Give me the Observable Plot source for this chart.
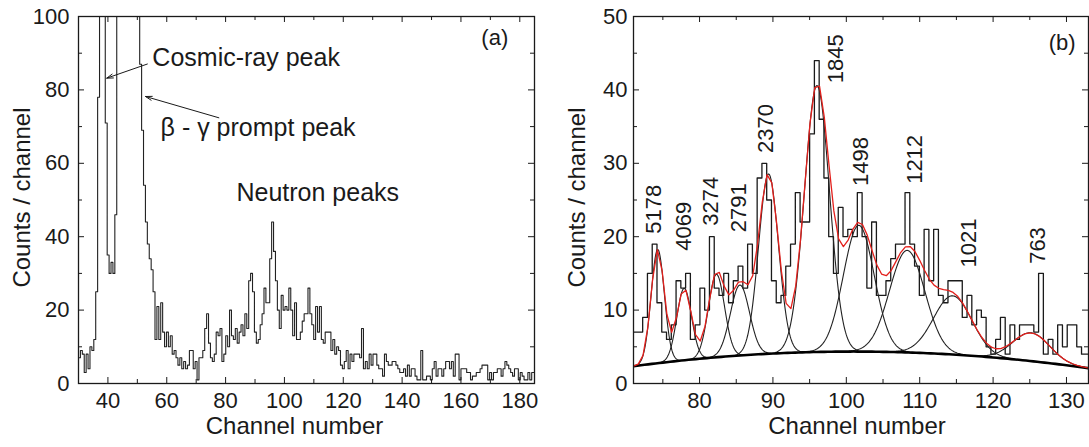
<!DOCTYPE html>
<html><head><meta charset="utf-8">
<script src="https://cdn.jsdelivr.net/npm/d3@7"></script>
<script src="https://cdn.jsdelivr.net/npm/@observablehq/plot@0.6"></script>
<style>
body{margin:0;background:#fff;}
#row{display:flex;width:1089px;height:447px;overflow:hidden;}
#row svg{display:block;flex:none;}
</style></head><body><div id="row"></div>
<script>
// ---- histogram (counts per bin), bins start at channel 30 ----
const binStart = 30;
const binWidth = 0.65;
const countsLow = [7,9,8,3,8,4,10,9,12,25,
 78,150,260,190,71,35,30,33,30,46,
 160,260,340,380,360,320,280,240,200,170,
 140,115,87,69,54,44,38,34,31,25,
 12,21,12,22,14,10,14,10,13,8,
 9,7,5,7,4,6,4,5,9,9,
 4,6,1];
const countsMid = [7,7,9,15,19,11,7,6,8,14,
 13,15,6,8,13,10,20,13,12,15,
 11,14,16,13,19,15,28,30,25,14,
 11,12,16,19,26,22,22,34,44,36,
 28,20,15,24,20,21,20,26,20,13,
 22,12,12,14,17,19,19,26,19,16,
 12,21,14,21,12,11,14,14,14,9,
 12,8,10,9,5,4,6,9,4,8,
 6,8,8,8,7,15,4,6,4,8,
 5,8,8,5,4,4];
const countsHigh = [2,8,6,5,5,6,6,5,4,3,
 3,4,2,5,2,4,4,2,1,1,
 9,1,1,2,2,1,4,6,2,4,
 4,2,4,6,6,4,6,2,8,8,
 1,4,4,4,3,3,1,2,2,3,
 3,4,5,5,5,1,3,1,3,3,
 4,4,2,4,6,5,4,3,2,4,
 4,1,3,2,1,1,3,1,3,3];

// ---- fitted peaks (panel b) ----
const peakLabels  = ["5178","4069","3274","2791","2370","1845","1498","1212","1021","763"];
const peakCenters = [74.3, 77.9, 82.3, 85.5, 89.4, 96.0, 101.7, 108.3, 114.5, 125.2];
const peakHeights = [15.5, 9.8, 11.3, 9.6, 24.5, 36.3, 17.2, 13.9, 8.0, 3.85];
const peakWidths  = [0.9, 1.0, 1.1, 1.3, 1.35, 1.7, 2.1, 2.4, 2.6, 2.5];
const peakLabelX  = [73.85, 77.86, 81.53, 85.33, 89.07, 98.58, 102.05, 109.3, 116.7, 126.1];
const peakLabelY  = [20.4, 18.1, 21.5, 20.6, 31.4, 40.9, 26.9, 27.2, 15.8, 16.3];
// background: parabola with top at (bgTopX, bgTopY)
const bgTopX = 101, bgTopY = 4.35, bgCurvature = 0.00222;

// ---- annotations (panel a) ----
const annoText = ["Cosmic-ray peak", "β - γ prompt peak", "Neutron peaks"];
const annoX = [55.1, 57.9, 83.7];
const annoY = [88.6, 69.6, 52.0];
const arrowFromX = [53.4, 77.7], arrowFromY = [87.05, 72.4];
const arrowToX = [39.6, 52.8], arrowToY = [83.2, 78.2];

// ---- ticks ----
const aXMajor = [40,60,80,100,120,140,160,180], aXMinor = [50,70,90,110,130,150,170];
const aYMajor = [0,20,40,60,80,100], aYMinor = [10,30,50,70,90];
const bXMajor = [80,90,100,110,120,130], bXMinor = [75,85,95,105,115,125];
const bYMajor = [0,10,20,30,40,50], bYMinor = [5,15,25,35,45];

const counts = countsLow.concat(countsMid, countsHigh);
const hist = counts.map((v,i)=>({c: binStart + i*binWidth, v}));
hist.push({c: binStart + counts.length*binWidth, v: counts[counts.length-1]});

const bg = c => bgTopY - bgCurvature*(c-bgTopX)**2;
const gauss = (c,i) => peakHeights[i]*Math.exp(-((c-peakCenters[i])**2)/(2*peakWidths[i]**2));
const compRows = [];
peakCenters.forEach((m,i)=>{
  const s = peakWidths[i];
  d3.range(m-3.3*s, m+3.3*s+1e-9, 0.1).forEach(c=>compRows.push({peak: peakLabels[i], c, v: bg(c)+gauss(c,i)}));
});
const bgRows = d3.range(71, 133.01, 0.5).map(c=>({c, v: bg(c)}));
const fitXs = d3.range(71, 133, binWidth).concat([133]);
const fitRows = fitXs.map(c=>({c, v: bg(c) + d3.sum(peakCenters, (_,i)=>gauss(c,i))}));

const font = "'Liberation Sans', Arial, Helvetica, sans-serif";
const ink = "#1a1a1a";
const style = {fontFamily: font, fontSize: "22px", color: ink, background: "white", overflow: "visible"};

function frameTicks(W, H, xMa, xMi, yMa, yMi) {
  return [
    Plot.tickX(xMa, {insetTop: H-6, stroke: ink}),
    Plot.tickX(xMa, {insetBottom: H-6, stroke: ink}),
    Plot.tickX(xMi, {insetTop: H-4, stroke: ink}),
    Plot.tickX(xMi, {insetBottom: H-4, stroke: ink}),
    Plot.tickY(yMa, {insetRight: W-6, stroke: ink}),
    Plot.tickY(yMa, {insetLeft: W-6, stroke: ink}),
    Plot.tickY(yMi, {insetRight: W-4, stroke: ink}),
    Plot.tickY(yMi, {insetLeft: W-4, stroke: ink})
  ];
}

// ---------- panel (a) ----------
const aW = 545, aML = 78, aMR = 11, MT = 16, MB = 64, H = 447;
const plotA = Plot.plot({
  width: aW, height: H, marginLeft: aML, marginRight: aMR, marginTop: MT, marginBottom: MB,
  x: {domain: [30, 185]}, y: {domain: [0, 100]}, style,
  marks: [
    Plot.line(hist, {x: "c", y: "v", curve: "step-after", stroke: "#222", strokeWidth: 1.1, clip: true}),
    Plot.frame({stroke: ink, strokeWidth: 1.3}),
    ...frameTicks(aW-aML-aMR, H-MT-MB, aXMajor, aXMinor, aYMajor, aYMinor),
    Plot.axisX({ticks: aXMajor, tickSize: 0, tickPadding: 9, label: null, tickFormat: d3.format("d")}),
    Plot.axisY({ticks: aYMajor, tickSize: 0, tickPadding: 9, label: null, tickFormat: d3.format("d")}),
    Plot.text(annoText, {x: (d,i)=>annoX[i], y: (d,i)=>annoY[i], text: d=>d, textAnchor: "start", lineAnchor: "middle", fontSize: 25, fill: ink}),
    Plot.arrow(arrowFromX, {x1: d=>d, y1: (d,i)=>arrowFromY[i], x2: (d,i)=>arrowToX[i], y2: (d,i)=>arrowToY[i], stroke: ink, strokeWidth: 1, headLength: 10, headAngle: 35}),
    Plot.text(["(a)"], {x: 171.5, y: 94.1, text: d=>d, textAnchor: "middle", lineAnchor: "middle", fontSize: 22, fill: ink}),
    Plot.text(["Counts / channel"], {frameAnchor: "left", text: d=>d, rotate: -90, dx: -56, dy: -2.5, textAnchor: "middle", lineAnchor: "middle", fontSize: 24, fill: ink}),
    Plot.text(["Channel number"], {frameAnchor: "bottom", text: d=>d, dx: -12, dy: 43, textAnchor: "middle", lineAnchor: "middle", fontSize: 24, fill: ink})
  ]
});

// ---------- panel (b) ----------
const bW = 544, bML = 88, bMR = 1;
const plotB = Plot.plot({
  width: bW, height: H, marginLeft: bML, marginRight: bMR, marginTop: MT, marginBottom: MB,
  x: {domain: [71, 133]}, y: {domain: [0, 50]}, style,
  marks: [
    Plot.line(hist, {x: "c", y: "v", curve: "step-after", stroke: ink, strokeWidth: 1.3, clip: true}),
    Plot.line(compRows, {x: "c", y: "v", z: "peak", stroke: "#222", strokeWidth: 1.1, clip: true}),
    Plot.line(bgRows, {x: "c", y: "v", stroke: "#000", strokeWidth: 2.6, clip: true}),
    Plot.line(fitRows, {x: "c", y: "v", stroke: "#e3201c", strokeWidth: 1.3, clip: true}),
    Plot.frame({stroke: ink, strokeWidth: 1.3}),
    ...frameTicks(bW-bML-bMR, H-MT-MB, bXMajor, bXMinor, bYMajor, bYMinor),
    Plot.axisX({ticks: bXMajor, tickSize: 0, tickPadding: 9, label: null, tickFormat: d3.format("d")}),
    Plot.axisY({ticks: bYMajor, tickSize: 0, tickPadding: 6, label: null, tickFormat: d3.format("d")}),
    Plot.text(peakLabels, {x: (d,i)=>peakLabelX[i], y: (d,i)=>peakLabelY[i], text: d=>d, rotate: -90, textAnchor: "start", lineAnchor: "middle", fontSize: 22, fill: ink}),
    Plot.text(["(b)"], {x: 129.4, y: 46.4, text: d=>d, textAnchor: "middle", lineAnchor: "middle", fontSize: 22, fill: ink}),
    Plot.text(["Counts / channel"], {frameAnchor: "left", text: d=>d, rotate: -90, dx: -56, dy: -2.5, textAnchor: "middle", lineAnchor: "middle", fontSize: 24, fill: ink}),
    Plot.text(["Channel number"], {frameAnchor: "bottom", text: d=>d, dx: -4, dy: 43, textAnchor: "middle", lineAnchor: "middle", fontSize: 24, fill: ink})
  ]
});

const row = document.getElementById("row");
row.appendChild(plotA);
row.appendChild(plotB);
</script>
</body></html>
